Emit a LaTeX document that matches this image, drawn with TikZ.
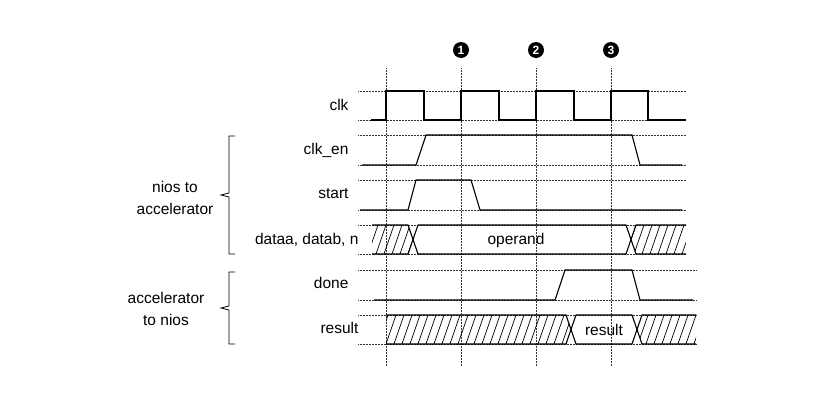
\documentclass[tikz,border=0pt]{standalone}
\usepackage{fontspec}
\setmainfont{Liberation Sans}
\begin{document}
\begin{tikzpicture}[x=1pt,y=-1pt,
  sig/.style={line width=1.1pt},
  guide/.style={densely dotted,line width=0.5pt,black!80},
  hatch/.style={line width=0.7pt},
  lbl/.style={font=\fontsize{15.5}{18}\selectfont,anchor=east},
  num/.style={circle,fill=black,text=white,inner sep=0pt,minimum size=16pt,font=\bfseries\fontsize{12}{12}\selectfont}]
\useasboundingbox[fill=white] (0,0) rectangle (820,410);
% vertical guides
\foreach \x in {386,461,536,611} \draw[guide] (\x,68)--(\x,366);
\node[num] (n1) at (461,50) {1};
\node[num] (n2) at (536,50) {2};
\node[num] (n3) at (611,50) {3};
% horizontal guides
\foreach \y in {91,120,135,165,180,210,225,254} \draw[guide] (358,\y)--(686,\y);
\foreach \y in {270,300,315,344} \draw[guide] (358,\y)--(696,\y);
% labels
\node[lbl] (lclk) at (352,105) {clk};
\node[lbl] (len) at (352,150) {clk\_en};
\node[lbl] (lst) at (352,194) {start};
\node[lbl] (ld) at (362,240) {dataa, datab, n};
\node[lbl] (ldn) at (352,283) {done};
\node[lbl] (lres) at (362,328) {result};
% clk
\draw[sig] (371,120)--(386,120)--(386,91)--(424,91)--(424,120)--(461,120)--(461,91)--(499,91)--(499,120)--(536,120)--(536,91)--(574,91)--(574,120)--(611,120)--(611,91)--(648,91)--(648,120)--(686,120);
% clk_en
\draw[sig] (362,165)--(416,165)--(426,135)--(632,135)--(640,165)--(682,165);
% start
\draw[sig] (360,210)--(408,210)--(416,180)--(471,180)--(480,210)--(682,210);
% done
\draw[sig] (374,300)--(555,300)--(565,270)--(632,270)--(640,300)--(693,300);
% dataa bus
\draw[sig] (372,225)--(408,225)--(418,254)--(626,254)--(636,225)--(686,225);
\draw[sig] (372,254)--(408,254)--(418,225)--(626,225)--(636,254)--(686,254);
\begin{scope}
\clip (372,225)--(408,225)--(413,239.5)--(408,254)--(372,254)--cycle;
\foreach \x in {360,368,...,420} \draw[hatch] (\x,254)--(\x+10,225);
\end{scope}
\begin{scope}
\clip (686,225)--(636,225)--(631,239.5)--(636,254)--(686,254)--cycle;
\foreach \x in {626,634,...,690} \draw[hatch] (\x,254)--(\x+10,225);
\end{scope}
\node[font=\fontsize{15.5}{18}\selectfont] (op) at (516,240) {operand};
% result bus
\draw[sig] (386,315)--(566,315)--(576,344)--(632,344)--(642,315)--(696,315);
\draw[sig] (386,344)--(566,344)--(576,315)--(632,315)--(642,344)--(696,344);
\begin{scope}
\clip (386,315)--(566,315)--(571,329.5)--(566,344)--(386,344)--cycle;
\foreach \x in {378,386,...,570} \draw[hatch] (\x,344)--(\x+10,315);
\end{scope}
\begin{scope}
\clip (696,315)--(642,315)--(637,329.5)--(642,344)--(696,344)--cycle;
\foreach \x in {630,638,...,700} \draw[hatch] (\x,344)--(\x+10,315);
\end{scope}
\node[font=\fontsize{15.5}{18}\selectfont] (rs) at (604,330) {result};
% braces
\draw[line width=0.8pt] (235,136)--(229,136)--(229,193)--(221,195)--(229,197)--(229,254)--(235,254);
\draw[line width=0.8pt] (235,272)--(229,272)--(229,306)--(221,308)--(229,310)--(229,344)--(235,344);
\node[font=\fontsize{15.5}{22}\selectfont,align=center] (g1) at (175,198) {nios to\\accelerator};
\node[font=\fontsize{15.5}{22}\selectfont,align=center] (g2) at (166,309) {accelerator\\to nios};
\end{tikzpicture}
\end{document}
